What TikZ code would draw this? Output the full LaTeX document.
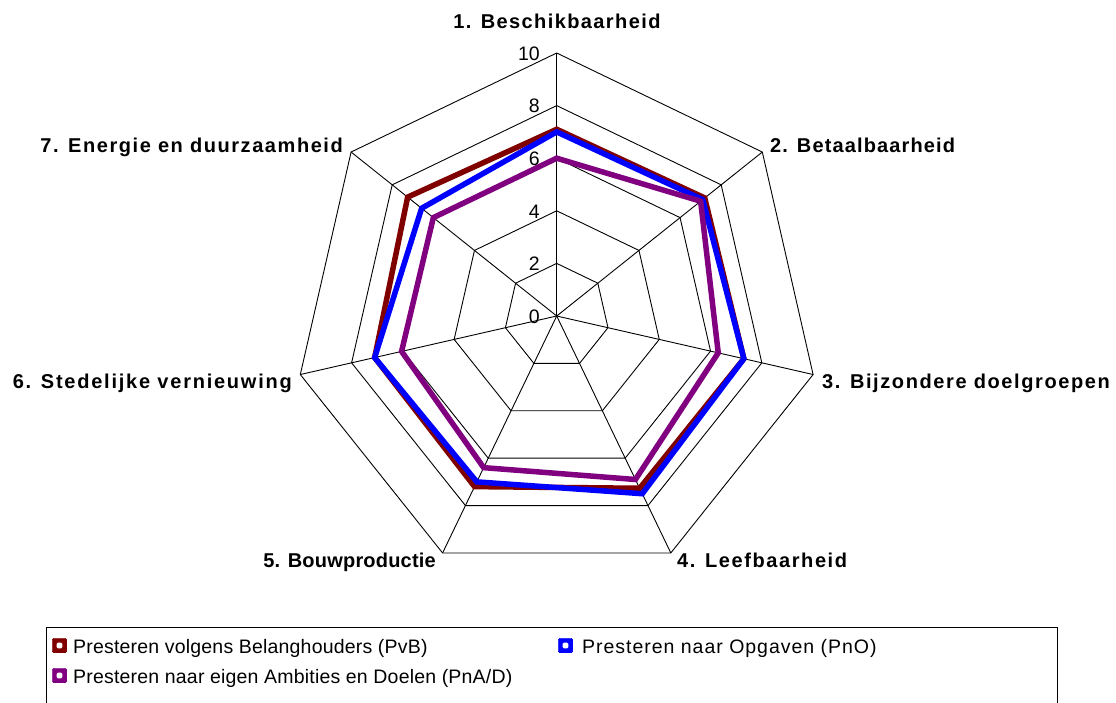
\documentclass[tikz,border=0pt]{standalone}
\usepackage{fontspec}
\setmainfont{Liberation Sans}
\definecolor{pvb}{RGB}{128,0,0}
\definecolor{pno}{RGB}{0,0,255}
\definecolor{pna}{RGB}{128,0,128}
\tikzset{
  gridline/.style={draw=black, line width=0.9pt},
  series/.style={line width=5.5pt, line join=miter},
  axislabel/.style={font=\fontsize{20}{22}\selectfont\bfseries\addfontfeature{LetterSpace=#1}, inner sep=0pt},
  numlabel/.style={font=\fontsize{19.5}{21}\selectfont, inner sep=0pt, anchor=base east},
  legtext/.style={font=\fontsize{19.5}{21}\selectfont\addfontfeature{LetterSpace=#1}, inner sep=0pt, anchor=base west},
  legmark/.style={draw=#1, fill=#1, rounded corners=1.5pt, minimum size=14.5pt, inner sep=0pt,
    path picture={\fill[white] ([xshift=-2.9pt,yshift=-2.9pt]path picture bounding box.center) rectangle ([xshift=2.9pt,yshift=2.9pt]path picture bounding box.center);}},
}
\begin{document}
\begin{tikzpicture}[x=1pt,y=1pt]
\useasboundingbox (0,0) rectangle (1116,-702);
\def\u{26.3}
\begin{scope}[shift={(556.7,-316)}]
  \coordinate (O) at (0,0);
  % rings
  \foreach \r in {2,4,6,8,10}{
    \draw[gridline] (90:{\r*\u}) \foreach \k in {1,...,6}{ -- ({90-\k*360/7}:{\r*\u}) } -- cycle;
  }
  % axes
  \foreach \k in {1,...,7}{
    \coordinate (a\k) at ({90-(\k-1)*360/7}:{10*\u});
    \draw[gridline] (O) -- (a\k);
  }
  % series
  \draw[series, pvb] (90:{7.1*\u}) -- ({90-360/7}:{7.2*\u}) -- ({90-2*360/7}:{7.3*\u}) -- ({90-3*360/7}:{7.27*\u}) -- ({90-4*360/7}:{7.2*\u}) -- ({90-5*360/7}:{7.1*\u}) -- ({90-6*360/7}:{7.25*\u}) -- cycle;
  \draw[series, pno] (90:{7.0*\u}) -- ({90-360/7}:{7.1*\u}) -- ({90-2*360/7}:{7.3*\u}) -- ({90-3*360/7}:{7.5*\u}) -- ({90-4*360/7}:{7.0*\u}) -- ({90-5*360/7}:{7.1*\u}) -- ({90-6*360/7}:{6.57*\u}) -- cycle;
  \draw[series, pna] (90:{6.0*\u}) -- ({90-360/7}:{7.0*\u}) -- ({90-2*360/7}:{6.3*\u}) -- ({90-3*360/7}:{6.9*\u}) -- ({90-4*360/7}:{6.4*\u}) -- ({90-5*360/7}:{6.05*\u}) -- ({90-6*360/7}:{6.0*\u}) -- cycle;
\end{scope}
% scale numbers
\foreach \r/\t in {0/0,2/2,4/4,6/6,8/8,10/10}{
  \node[numlabel] (n\r) at (540,{-316+\r*\u-7.2}) {\t};
}
% axis labels
\node[axislabel=7, anchor=base] (l1) at (557,-28) {1. Beschikbaarheid};
\node[axislabel=5.7, anchor=base west] (l2) at (770,-152) {2. Betaalbaarheid};
\node[axislabel=8, anchor=base west] (l3) at (822,-388) {3. Bijzondere doelgroepen};
\node[axislabel=8, anchor=base west] (l4) at (677,-567) {4. Leefbaarheid};
\node[axislabel=1, anchor=base east] (l5) at (436,-567) {5. Bouwproductie};
\node[axislabel=8.8, anchor=base east] (l6) at (292,-388) {6. Stedelijke vernieuwing};
\node[axislabel=7.8, anchor=base east] (l7) at (343,-152) {7. Energie en duurzaamheid};
% legend
\draw[black, line width=0.9pt] (46,-703) |- (1057.7,-627.7) -- (1057.7,-703);
\node[legmark=pvb] (m1) at (59.5,-645.5) {};
\node[legtext=1] (t1) at (73,-653.5) {Presteren volgens Belanghouders (PvB)};
\node[legmark=pno] (m2) at (565.5,-645.5) {};
\node[legtext=5] (t2) at (582,-653.5) {Presteren naar Opgaven (PnO)};
\node[legmark=pna] (m3) at (59.5,-675.5) {};
\node[legtext=1] (t3) at (73,-683.5) {Presteren naar eigen Ambities en Doelen (PnA/D)};
\end{tikzpicture}
\end{document}
